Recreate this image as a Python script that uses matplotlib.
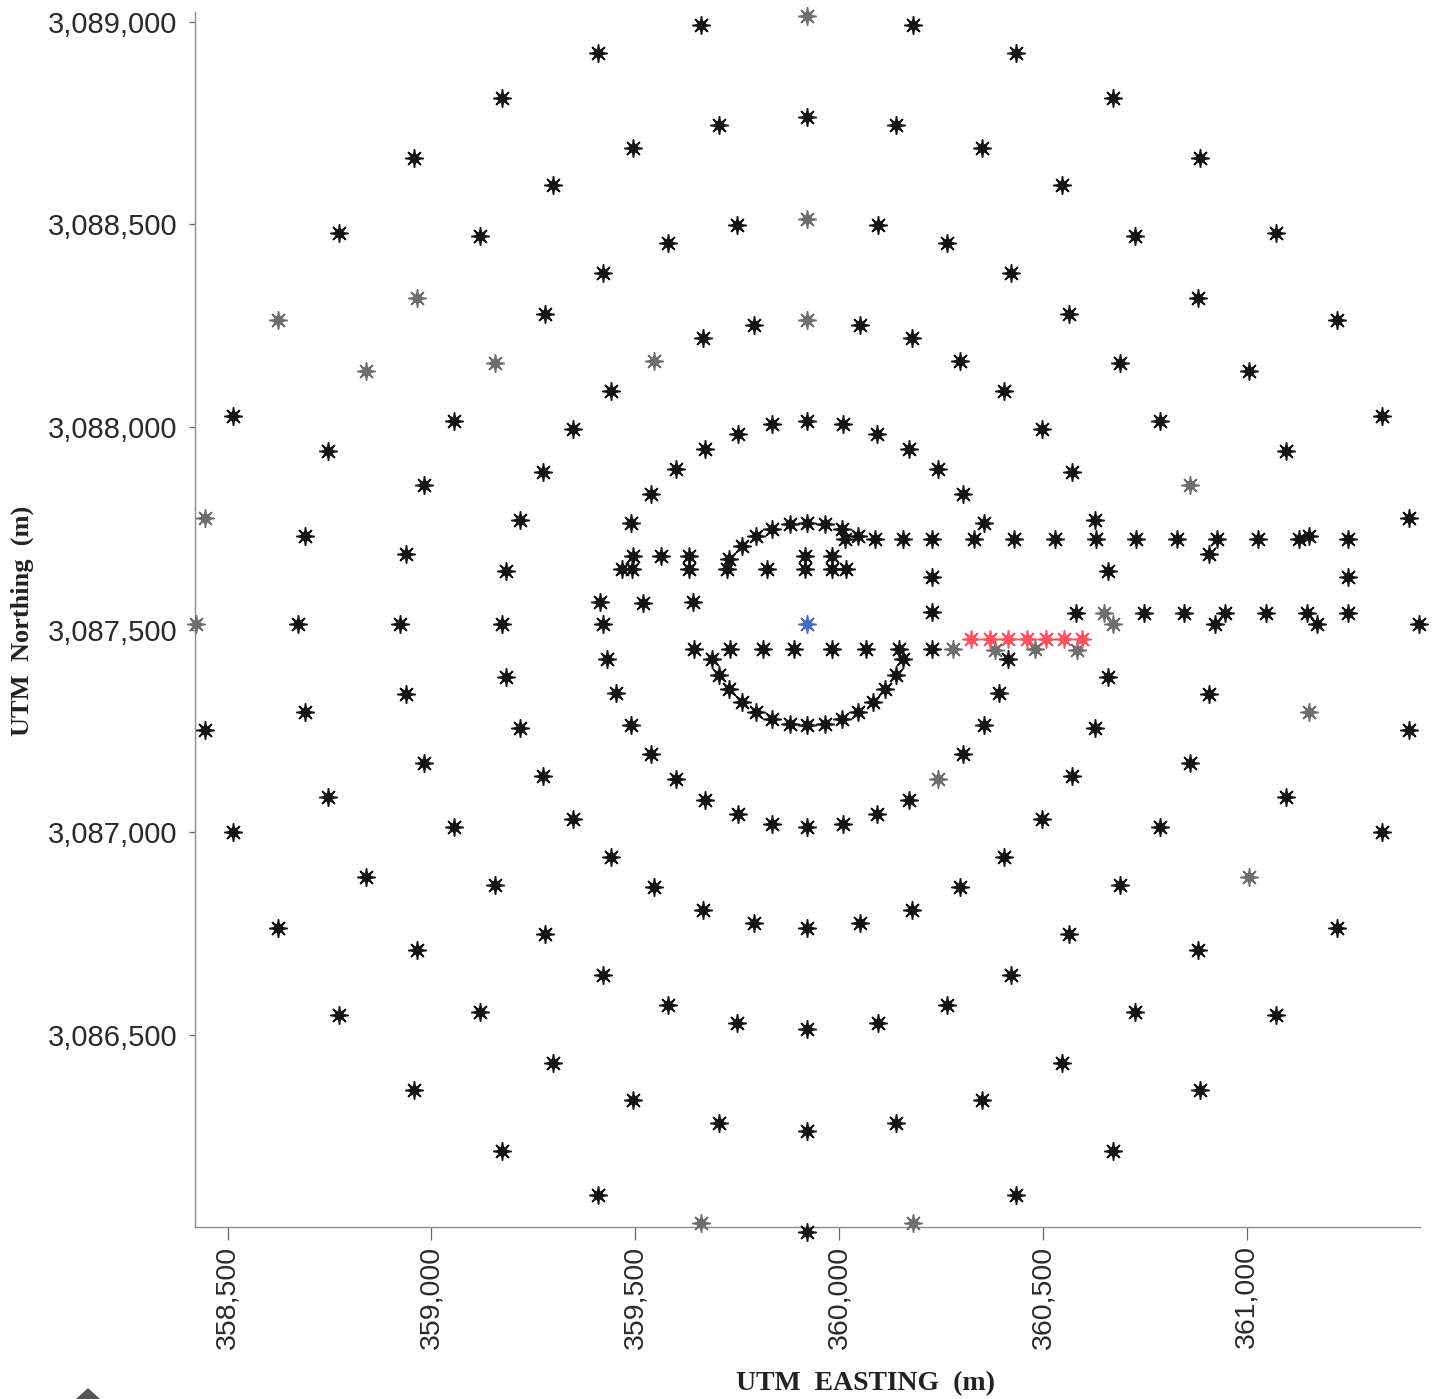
import numpy as np
import matplotlib
matplotlib.use("Agg")
import matplotlib.pyplot as plt
from matplotlib.ticker import FixedLocator, FuncFormatter
from matplotlib.patches import Polygon

# ---------------- data ----------------
# polar receptor grid centred on the source
ORIGIN_E = 359922.0
ORIGIN_N = 3087514.0
RING_DIST = [250, 500, 750, 1000, 1250, 1500]
RING_DIR = [0, 10, 20, 30, 40, 50, 60, 70, 80, 90, 100, 110, 120, 130, 140, 150, 160, 170,
            180, 190, 200, 210, 220, 230, 240, 250, 260, 270, 280, 290, 300, 310, 320, 330, 340, 350]
# polar receptors removed (inside the facility boundary)
EXCL_250 = [40, 50, 60, 70, 80, 90, 100, 260, 270, 280, 290, 300]
EXCL_500 = [70, 80, 90, 280, 290]
# polar receptors drawn in grey
GRAY_500 = [140]
GRAY_750 = [0, 90, 330]
GRAY_1000 = [0, 70, 310]
GRAY_1250 = [100, 120, 300, 310]
GRAY_1500 = [0, 170, 190, 270, 280, 300]

# discrete (fence-line) receptors, black
DISC_E = [360014, 360088, 360157, 360229, 360330, 360429, 360530, 360629, 360728, 360828,
          360926, 361027, 361127, 361248,
          360229, 360229, 361248,
          360580, 360748, 360847, 360947, 361047, 361147, 361248,
          359645, 359732, 359814, 359889, 359983, 360065, 360148, 360229,
          359495, 359563, 359632, 359916, 359983,
          359467, 359491, 359632, 359724, 359824, 359916, 359983, 360016,
          359413, 359518, 359641]
DISC_N = [3087724, 3087724, 3087724, 3087724, 3087724, 3087724, 3087724, 3087724, 3087724, 3087724,
          3087724, 3087724, 3087724, 3087724,
          3087630, 3087544, 3087629,
          3087541, 3087541, 3087541, 3087541, 3087541, 3087541, 3087541,
          3087452, 3087452, 3087452, 3087452, 3087452, 3087452, 3087452, 3087452,
          3087681, 3087681, 3087681, 3087681, 3087681,
          3087650, 3087650, 3087650, 3087650, 3087650, 3087650, 3087650, 3087650,
          3087568, 3087566, 3087569]
# discrete receptors, grey
DGRAY_E = [360649, 360280, 360382, 360481, 360583]
DGRAY_N = [3087541, 3087452, 3087450, 3087452, 3087450]
# highlighted receptors (red)
RED_E = [360323, 360370, 360415, 360460, 360507, 360552, 360597]
RED_N = [3087477, 3087477, 3087477, 3087477, 3087477, 3087477, 3087477]
# source (blue)
SRC_E = [359922]
SRC_N = [3087514]

X_TICKS = [358500, 359000, 359500, 360000, 360500, 361000]
Y_TICKS = [3086500, 3087000, 3087500, 3088000, 3088500, 3089000]

# ---------------- build ----------------
black_e, black_n, gray_e, gray_n = [], [], [], []
excl = {250: EXCL_250, 500: EXCL_500}
gray = {500: GRAY_500, 750: GRAY_750, 1000: GRAY_1000, 1250: GRAY_1250, 1500: GRAY_1500}
for r in RING_DIST:
    for d in RING_DIR:
        if d in excl.get(r, []):
            continue
        t = np.deg2rad(d)
        e = ORIGIN_E + r * np.sin(t)
        n = ORIGIN_N + r * np.cos(t)
        if d in gray.get(r, []):
            gray_e.append(e); gray_n.append(n)
        else:
            black_e.append(e); black_n.append(n)
black_e += DISC_E
black_n += DISC_N
gray_e += DGRAY_E
gray_n += DGRAY_N

W, H = 1436, 1399
fig = plt.figure(figsize=(W / 100, H / 100), dpi=100)
ax = fig.add_axes([195 / W, 1 - 1226.7 / H, (1420 - 195) / W, (1226.7 - 12) / H])
ax.set_xlim(358420, 361425)
ax.set_ylim(3086027, 3089024)


def stars(x, y, color, z):
    ax.plot(x, y, ls="none", marker=(8, 1, 0), ms=10.5, mfc=color, mec=color, mew=0.8,
            clip_on=False, zorder=z)
    ax.plot(x, y, ls="none", marker=(8, 2, 0), ms=13, mec=color, mew=1.1,
            clip_on=False, zorder=z)


stars(black_e, black_n, "#141414", 3)
stars(gray_e, gray_n, "#6f6f6f", 4)
stars(RED_E, RED_N, "#ff5261", 5)
stars(SRC_E, SRC_N, "#4a6cc0", 6)

for s in ["top", "right"]:
    ax.spines[s].set_visible(False)
for s in ["left", "bottom"]:
    ax.spines[s].set_color("#8c8c8c")
    ax.spines[s].set_linewidth(1.0)

ax.xaxis.set_major_locator(FixedLocator(X_TICKS))
ax.yaxis.set_major_locator(FixedLocator(Y_TICKS))
fmt = FuncFormatter(lambda v, p: f"{int(round(v)):,}")
ax.xaxis.set_major_formatter(fmt)
ax.yaxis.set_major_formatter(fmt)
ax.tick_params(axis="x", length=9.5, width=0.9, color="#666666", pad=4,
               labelsize=20.5, labelcolor="#2a2a2a", labelrotation=90)
ax.tick_params(axis="y", length=4.5, width=0.9, color="#666666", pad=8,
               labelsize=21, labelcolor="#2a2a2a")
for lab in ax.get_xticklabels() + ax.get_yticklabels():
    lab.set_fontfamily("Liberation Sans")

fig.text(865 / W, 1 - 1384 / H, "UTM  EASTING  (m)", ha="center", va="center",
         fontfamily="Liberation Serif", fontweight="bold", fontsize=20, color="#222222")
fig.text(22 / W, 1 - 621 / H, "UTM  Northing  (m)", ha="center", va="center", rotation=90,
         fontfamily="Liberation Serif", fontweight="bold", fontsize=19, color="#222222")

tri = Polygon([[76 / W, 0.0], [88 / W, 1 - 1388 / H], [100 / W, 0.0]], closed=True,
              transform=fig.transFigure, facecolor="#555555", edgecolor="none")
fig.patches.append(tri)

fig.savefig("out.png", dpi=100, facecolor="white")
